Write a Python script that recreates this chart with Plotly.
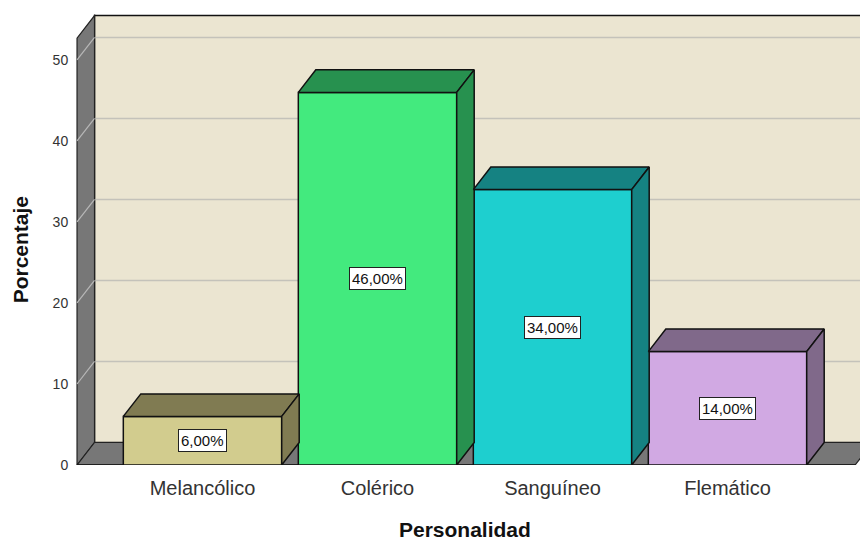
import plotly.graph_objects as go

categories = ["Melancólico", "Colérico", "Sanguíneo", "Flemático"]
values = [6, 46, 34, 14]
labels = ["6,00%", "46,00%", "34,00%", "14,00%"]
front_colors = ["#D2CC8E", "#43EA7E", "#1ECFCF", "#D1A9E3"]
side_colors = ["#807B52", "#27914F", "#158282", "#80698A"]
y_ticks = [0, 10, 20, 30, 40, 50]

FONT = "Arial, Liberation Sans, sans-serif"

# geometry (style constants)
X_MIN, X_MAX = -0.7229, 3.7571
Y_MIN, Y_MAX = 0, 56.17
DX, DY = 0.1, 2.78          # 3D depth offset in axis units
BW = 0.905                  # bar width
WALL_X = -0.717             # front edge of left wall
WALL_TOP = 52.7             # top of wall (front)
FLOOR_RIGHT = 3.729

WALL_COL = "#EBE5D1"
GREY = "#777777"
GRID = "#C4C2BA"

fig = go.Figure()

# front faces
fig.add_trace(go.Bar(
    x=list(range(len(categories))), y=values, width=BW,
    marker=dict(color=front_colors, line=dict(color="#111111", width=1.5)),
    hoverinfo="skip", showlegend=False))

# top and side faces
for i, v in enumerate(values):
    xl, xr = i - BW / 2, i + BW / 2
    fig.add_trace(go.Scatter(
        x=[xl, xl + DX, xr + DX, xr, xl], y=[v, v + DY, v + DY, v, v],
        fill="toself", fillcolor=side_colors[i], mode="lines",
        line=dict(color="#111111", width=1.5), hoverinfo="skip", showlegend=False))
    fig.add_trace(go.Scatter(
        x=[xr, xr, xr + DX, xr + DX, xr], y=[0, v, v + DY, DY, 0],
        fill="toself", fillcolor=side_colors[i], mode="lines",
        line=dict(color="#111111", width=1.5), hoverinfo="skip", showlegend=False))

shapes = []
# back wall
shapes.append(dict(type="rect", xref="x", yref="y", layer="below",
                   x0=WALL_X + DX, x1=X_MAX + 1, y0=DY, y1=WALL_TOP + DY,
                   fillcolor=WALL_COL, line=dict(color="#111111", width=1.5)))
# back-wall gridlines
for t in y_ticks[1:]:
    shapes.append(dict(type="line", xref="x", yref="y", layer="below",
                       x0=WALL_X + DX, x1=X_MAX + 1, y0=t + DY, y1=t + DY,
                       line=dict(color=GRID, width=1.5)))
# left wall
shapes.append(dict(type="path", xref="x", yref="y", layer="below",
                   path=f"M {WALL_X},{0} L {WALL_X},{WALL_TOP} L {WALL_X+DX},{WALL_TOP+DY} "
                        f"L {WALL_X+DX},{DY} Z",
                   fillcolor=GREY, line=dict(color="#222222", width=1.2)))
for t in y_ticks[1:]:
    shapes.append(dict(type="line", xref="x", yref="y", layer="below",
                       x0=WALL_X, x1=WALL_X + DX, y0=t, y1=t + DY,
                       line=dict(color="#B8B8B8", width=1.2)))
# floor
shapes.append(dict(type="path", xref="x", yref="y", layer="below",
                   path=f"M {WALL_X},{0} L {WALL_X+DX},{DY} L {FLOOR_RIGHT+DX},{DY} "
                        f"L {FLOOR_RIGHT},{0} Z",
                   fillcolor=GREY, line=dict(color="#222222", width=1.2)))
shapes.append(dict(type="line", xref="x", yref="y", layer="below",
                   x0=WALL_X, x1=FLOOR_RIGHT, y0=0, y1=0,
                   line=dict(color="#111111", width=1.5)))

annotations = []
for i, v in enumerate(values):
    annotations.append(dict(x=i, y=v / 2, xref="x", yref="y", text=labels[i],
                            showarrow=False, bgcolor="white", bordercolor="#222222",
                            borderwidth=1, borderpad=2,
                            font=dict(family=FONT, size=15, color="#111111")))
annotations.append(dict(x=1.5, y=0, xref="x", yref="paper", yanchor="middle",
                        yshift=-64, text="<b>Personalidad</b>", showarrow=False,
                        font=dict(family=FONT, size=21, color="#111111")))
annotations.append(dict(x=0, y=26.5, xref="paper", yref="y", xanchor="center",
                        xshift=-56, text="<b>Porcentaje</b>", textangle=-90,
                        showarrow=False, font=dict(family=FONT, size=21, color="#111111")))

fig.update_layout(
    width=860, height=540,
    margin=dict(l=76, r=0, t=10, b=75, autoexpand=False),
    paper_bgcolor="white", plot_bgcolor="white",
    shapes=shapes, annotations=annotations,
    xaxis=dict(range=[X_MIN, X_MAX], tickvals=list(range(len(categories))),
               ticktext=categories, showgrid=False, zeroline=False, showline=False,
               ticks="outside", ticklen=5, tickcolor="rgba(0,0,0,0)", automargin=False,
               tickfont=dict(family=FONT, size=20, color="#333333"), fixedrange=True),
    yaxis=dict(range=[Y_MIN, Y_MAX], tickvals=y_ticks, showgrid=False, zeroline=False,
               showline=False, ticks="outside", ticklen=4, tickcolor="rgba(0,0,0,0)",
               automargin=False,
               tickfont=dict(family=FONT, size=14, color="#333333"), fixedrange=True),
    font=dict(family=FONT),
    hovermode=False,
)

# remove the default page margin so the 860x540 figure fills the window exactly
fig.write_html("out.html",
               config={"displayModeBar": False, "staticPlot": True},
               post_script="document.body.style.margin='0';document.body.style.overflow='hidden';")
